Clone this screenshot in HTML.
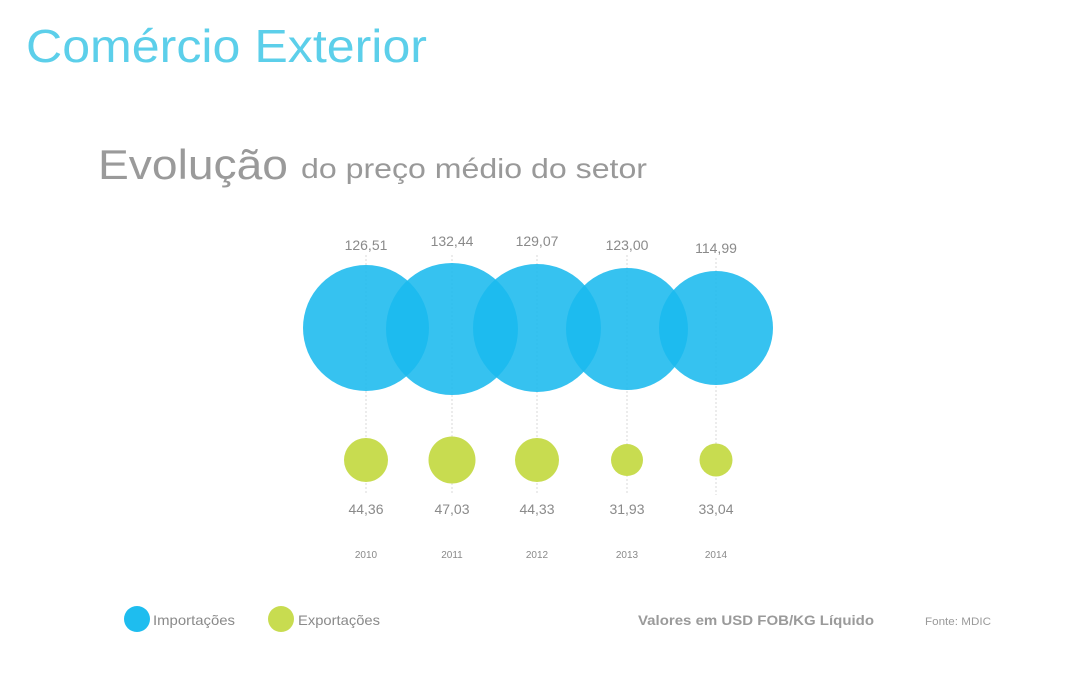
<!DOCTYPE html>
<html><head><meta charset="utf-8"><style>
html,body{margin:0;padding:0;background:#fff;}
svg{display:block;font-family:"Liberation Sans",sans-serif;}
</style></head><body>
<svg width="1092" height="700" viewBox="0 0 1092 700">
<text x="26" y="62" font-size="46" fill="#5ccfea" textLength="401" lengthAdjust="spacingAndGlyphs">Comércio Exterior</text>
<text x="98" y="179" font-size="42" fill="#9a9a9a" textLength="190" lengthAdjust="spacingAndGlyphs">Evolução</text>
<text x="301" y="178" font-size="28" fill="#999" textLength="346" lengthAdjust="spacingAndGlyphs">do preço médio do setor</text>
<g stroke="#d8d8d8" stroke-width="1" stroke-dasharray="2,2">
<line x1="366" y1="255" x2="366" y2="495"/><line x1="452" y1="255" x2="452" y2="495"/><line x1="537" y1="255" x2="537" y2="495"/><line x1="627" y1="255" x2="627" y2="495"/><line x1="716" y1="258" x2="716" y2="495"/>
</g>
<g fill="#1ab9ee" fill-opacity="0.88">
<circle cx="366" cy="328" r="63"/><circle cx="452" cy="329" r="66"/><circle cx="537" cy="328" r="64"/><circle cx="627" cy="329" r="61"/><circle cx="716" cy="328" r="57"/>
</g>
<g fill="#c8dc50">
<circle cx="366" cy="460" r="22"/><circle cx="452" cy="460" r="23.5"/><circle cx="537" cy="460" r="22"/><circle cx="627" cy="460" r="16"/><circle cx="716" cy="460" r="16.5"/>
</g>
<g font-size="14" fill="#8a8a8a" text-anchor="middle">
<text x="366" y="250">126,51</text><text x="452" y="246">132,44</text><text x="537" y="246">129,07</text><text x="627" y="250">123,00</text><text x="716" y="253">114,99</text>
<text x="366" y="514">44,36</text><text x="452" y="514">47,03</text><text x="537" y="514">44,33</text><text x="627" y="514">31,93</text><text x="716" y="514">33,04</text>
</g>
<g font-size="10" fill="#8a8a8a" text-anchor="middle">
<text x="366" y="558">2010</text><text x="452" y="558">2011</text><text x="537" y="558">2012</text><text x="627" y="558">2013</text><text x="716" y="558">2014</text>
</g>
<circle cx="137" cy="619" r="13" fill="#1ebdef"/>
<text x="153" y="625" font-size="14" fill="#8a8a8a" textLength="82" lengthAdjust="spacingAndGlyphs">Importações</text>
<circle cx="281" cy="619" r="13" fill="#c8dc50"/>
<text x="298" y="625" font-size="14" fill="#8a8a8a" textLength="82" lengthAdjust="spacingAndGlyphs">Exportações</text>
<text x="638" y="625" font-size="14" font-weight="bold" fill="#9a9a9a" textLength="236" lengthAdjust="spacingAndGlyphs">Valores em USD FOB/KG Líquido</text>
<text x="925" y="625" font-size="11" fill="#9a9a9a" textLength="66" lengthAdjust="spacingAndGlyphs">Fonte: MDIC</text>
</svg>
</body></html>
